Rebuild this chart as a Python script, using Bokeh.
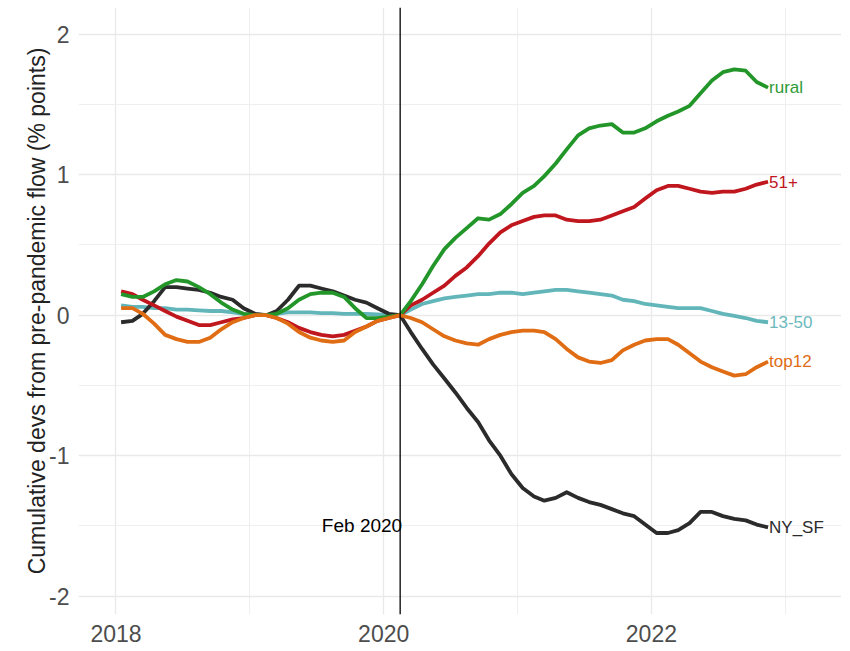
import pandas as pd
from bokeh.plotting import figure
from bokeh.models import FixedTicker, Span, ColumnDataSource
from bokeh.core.properties import value
from bokeh.embed import file_html
from bokeh.resources import INLINE

# ---- data (monthly, Jan 2018 .. Nov 2022) ----
first_month = "2018-01-15"
n_months = 59
event_date = "2020-02-15"
event_label = "Feb 2020"

rural = [0.15, 0.13, 0.13, 0.17, 0.22, 0.25, 0.24, 0.20, 0.15, 0.09, 0.04, 0.01, 0.00,
         0.00, 0.01, 0.05, 0.11, 0.15, 0.16, 0.16, 0.13, 0.05, -0.02, -0.02, -0.01,
         0.00, 0.10, 0.22, 0.35, 0.47, 0.55, 0.62, 0.69, 0.68, 0.72, 0.79, 0.87, 0.92,
         0.99, 1.08, 1.18, 1.28, 1.33, 1.35, 1.36, 1.30, 1.30, 1.33, 1.38, 1.42, 1.45,
         1.49, 1.58, 1.67, 1.73, 1.75, 1.74, 1.66, 1.62]
big51 = [0.17, 0.15, 0.11, 0.07, 0.03, -0.01, -0.04, -0.07, -0.07, -0.05, -0.03, -0.02, 0.00,
         0.00, -0.02, -0.05, -0.09, -0.12, -0.14, -0.15, -0.14, -0.11, -0.08, -0.04, -0.02,
         0.00, 0.07, 0.11, 0.16, 0.21, 0.28, 0.34, 0.42, 0.51, 0.59, 0.64, 0.67, 0.70,
         0.71, 0.71, 0.68, 0.67, 0.67, 0.68, 0.71, 0.74, 0.77, 0.83, 0.89, 0.92, 0.92,
         0.90, 0.88, 0.87, 0.88, 0.88, 0.90, 0.93, 0.95]
mid13_50 = [0.07, 0.06, 0.06, 0.05, 0.05, 0.04, 0.04, 0.035, 0.03, 0.03, 0.02, 0.01, 0.005,
            0.00, 0.01, 0.02, 0.02, 0.02, 0.015, 0.015, 0.01, 0.01, 0.01, 0.005, 0.00,
            0.00, 0.04, 0.08, 0.10, 0.12, 0.13, 0.14, 0.15, 0.15, 0.16, 0.16, 0.15, 0.16,
            0.17, 0.18, 0.18, 0.17, 0.16, 0.15, 0.14, 0.11, 0.10, 0.08, 0.07, 0.06, 0.05,
            0.05, 0.05, 0.03, 0.01, -0.005, -0.02, -0.04, -0.05]
top12 = [0.05, 0.05, 0.01, -0.06, -0.14, -0.17, -0.19, -0.19, -0.16, -0.10, -0.05, -0.02, 0.00,
         0.00, -0.02, -0.06, -0.12, -0.16, -0.18, -0.19, -0.18, -0.12, -0.08, -0.04, -0.02,
         0.00, -0.02, -0.05, -0.10, -0.15, -0.18, -0.20, -0.21, -0.17, -0.14, -0.12, -0.11, -0.11,
         -0.12, -0.17, -0.24, -0.30, -0.33, -0.34, -0.32, -0.25, -0.21, -0.18, -0.17, -0.17, -0.21,
         -0.27, -0.33, -0.37, -0.40, -0.43, -0.42, -0.37, -0.33]
ny_sf = [-0.05, -0.04, 0.01, 0.10, 0.20, 0.20, 0.19, 0.18, 0.16, 0.13, 0.11, 0.05, 0.01,
         0.00, 0.03, 0.11, 0.21, 0.21, 0.19, 0.17, 0.14, 0.11, 0.09, 0.05, 0.01,
         0.00, -0.12, -0.24, -0.35, -0.45, -0.55, -0.66, -0.76, -0.89, -1.00, -1.13, -1.23, -1.29,
         -1.32, -1.30, -1.26, -1.30, -1.33, -1.35, -1.38, -1.41, -1.43, -1.49, -1.55, -1.55, -1.53,
         -1.48, -1.40, -1.40, -1.43, -1.45, -1.46, -1.49, -1.51]

series_names = ["13-50", "NY_SF", "51+", "rural", "top12"]
series_values = [mid13_50, ny_sf, big51, rural, top12]
line_colors = ["#62b6ba", "#2b2b2b", "#c0161d", "#23962a", "#e06c14"]
label_colors = ["#6cb9bd", "#2b2b2b", "#c0161d", "#2f9a34", "#e06c14"]

x_ticks = [2018, 2020, 2022]
x_minor = [2019, 2021, 2023]
y_ticks = [-2, -1, 0, 1, 2]
y_minor = [-1.5, -0.5, 0.5, 1.5]
y_label = "Cumulative devs from pre-pandemic flow (% points)"


def dec_year(ts):
    ts = pd.Timestamp(ts)
    days = 366 if ts.is_leap_year else 365
    return ts.year + (ts.dayofyear - 1) / days


dates = pd.date_range(first_month, periods=n_months, freq=pd.DateOffset(months=1))
xs = [dec_year(d) for d in dates]
x_event = dec_year(event_date)

FONT = "Liberation Sans"

p = figure(frame_width=763, frame_height=607,
           x_range=(2017.72, 2023.42), y_range=(-2.13, 2.19),
           output_backend="svg", toolbar_location=None,
           min_border_left=78, min_border_right=0, min_border_top=7, min_border_bottom=34)
p.outline_line_color = None
p.background_fill_color = "white"
p.border_fill_color = "white"

p.xaxis.ticker = FixedTicker(ticks=x_ticks, minor_ticks=x_minor)
p.yaxis.ticker = FixedTicker(ticks=y_ticks, minor_ticks=y_minor)
p.yaxis.major_label_overrides = {t: str(t) for t in y_ticks}
p.xaxis.major_label_overrides = {t: str(t) for t in x_ticks}

for ax in (p.xaxis, p.yaxis):
    ax.axis_line_color = None
    ax.major_tick_line_color = None
    ax.minor_tick_line_color = None
    ax.major_tick_out = 0
    ax.major_tick_in = 0
    ax.major_label_text_font = FONT
    ax.major_label_text_font_size = "23px"
    ax.major_label_text_color = "#4d4d4d"

p.xaxis.major_label_standoff = 6
p.yaxis.major_label_standoff = 5
p.yaxis.axis_label = y_label
p.yaxis.axis_label_text_font = FONT
p.yaxis.axis_label_text_font_size = "23px"
p.yaxis.axis_label_text_font_style = "normal"
p.yaxis.axis_label_text_color = "#222222"
p.yaxis.axis_label_standoff = -4

for g in (p.xgrid, p.ygrid):
    g.grid_line_color = "#e9e9e9"
    g.grid_line_width = 1.3
    g.minor_grid_line_color = "#efefef"
    g.minor_grid_line_width = 1.1
p.xgrid.ticker = FixedTicker(ticks=x_ticks, minor_ticks=x_minor)
p.ygrid.ticker = FixedTicker(ticks=y_ticks, minor_ticks=y_minor)

p.add_layout(Span(location=x_event, dimension="height", line_color="black", line_width=1.3))

for name, vals, col in zip(series_names, series_values, line_colors):
    p.line(xs, vals, line_color=col, line_width=3.8, line_join="round")

src = ColumnDataSource(dict(
    x=[xs[-1]] * len(series_names),
    y=[v[-1] for v in series_values],
    text=series_names,
    color=label_colors,
))
p.text(x="x", y="y", text="text", text_color="color", source=src,
       x_offset=1, text_align="left", text_baseline="middle",
       text_font=value(FONT), text_font_size="17px")

p.text(x=[x_event], y=[-1.5], text=[event_label], x_offset=2,
       text_align="right", text_baseline="middle", text_color="black",
       text_font=value(FONT), text_font_size="19px")

open("out.html", "w").write(file_html(p, INLINE))
